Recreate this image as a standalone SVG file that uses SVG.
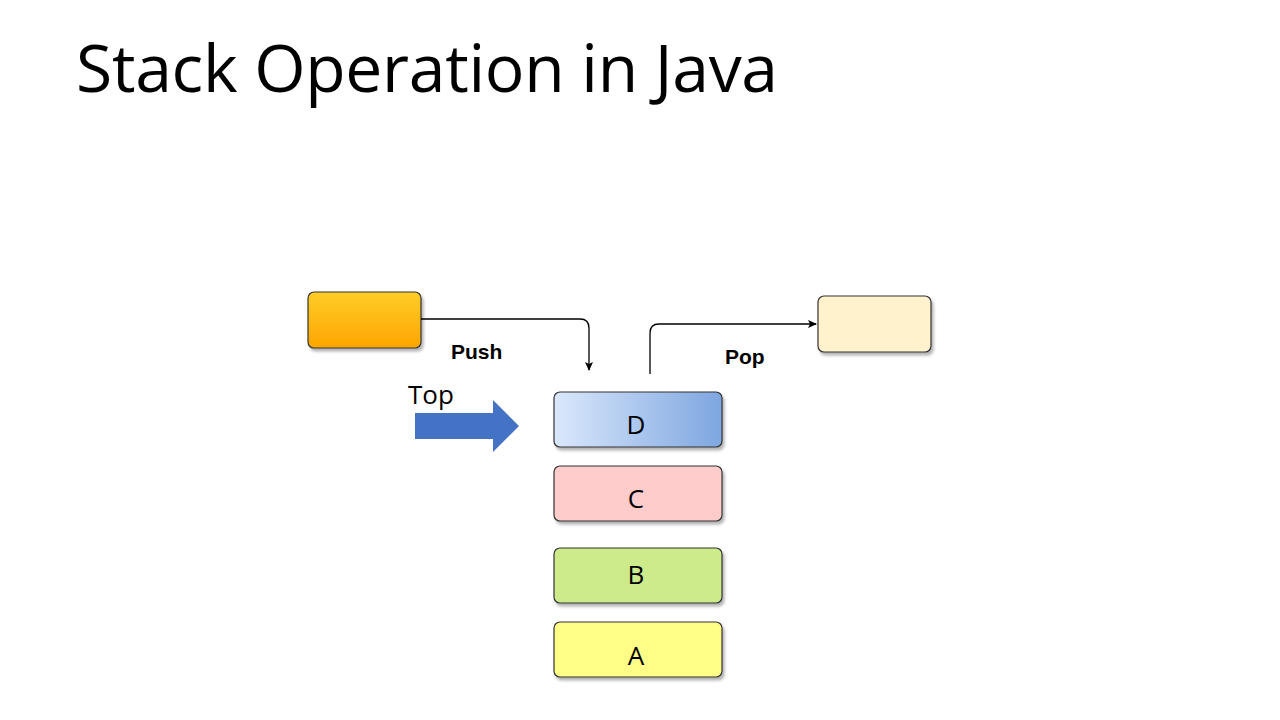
<svg xmlns="http://www.w3.org/2000/svg" width="1280" height="720" viewBox="0 0 1280 720">
<defs>
<linearGradient id="gOr" x1="0" y1="0" x2="0" y2="1"><stop offset="0" stop-color="#ffcd28"/><stop offset="1" stop-color="#ffa500"/></linearGradient>
<linearGradient id="gD" x1="0" y1="0" x2="1" y2="0"><stop offset="0" stop-color="#dae8fc"/><stop offset="1" stop-color="#7ea6e0"/></linearGradient>
<filter id="sh" x="-10%" y="-10%" width="130%" height="140%"><feDropShadow dx="2" dy="3" stdDeviation="1.5" flood-opacity="0.3"/></filter>
<marker id="ar" markerWidth="10" markerHeight="10" refX="8" refY="5" orient="auto" markerUnits="userSpaceOnUse"><path d="M0,1 L9,5 L0,9 L2,5 z" fill="#000"/></marker>
</defs>
<style>
.box{stroke:#333;stroke-width:1.2;filter:url(#sh)}
.lbl{font-family:"Open Sans","Noto Sans",sans-serif;font-size:26px;fill:#000;text-anchor:middle}
.b{font-family:"Liberation Sans",Arial,sans-serif;font-weight:bold;font-size:21px;fill:#000}
.con{fill:none;stroke:#000;stroke-width:1.3}
</style>
<rect width="1280" height="720" fill="#fff"/>
<text x="76" y="92" font-family="Open Sans, Noto Sans, sans-serif" font-size="66" fill="#000" textLength="702">Stack Operation in Java</text>
<g id="src"><rect class="box" x="308" y="292" width="113" height="56" rx="6" fill="url(#gOr)"/></g>
<g id="dst"><rect class="box" x="818" y="296" width="113" height="56" rx="6" fill="#fff2cc"/></g>
<g id="D"><rect class="box" x="554" y="392" width="168" height="55" rx="6" fill="url(#gD)"/><text class="lbl" x="636" y="434">D</text></g>
<g id="C"><rect class="box" x="554" y="466" width="168" height="55" rx="6" fill="#ffcccc"/><text class="lbl" x="636" y="508">C</text></g>
<g id="B"><rect class="box" x="554" y="548" width="168" height="55" rx="6" fill="#cdeb8b"/><text class="lbl" x="636" y="584">B</text></g>
<g id="A"><rect class="box" x="554" y="622" width="168" height="55" rx="6" fill="#ffff88"/><text class="lbl" x="636" y="665">A</text></g>
<g id="topArrow"><polygon points="415,413 493,413 493,400 519,426 493,452 493,439 415,439" fill="#4472c4"/><text x="408" y="404" font-family="Open Sans, Noto Sans, sans-serif" font-size="26" fill="#000">Top</text></g>
<g id="connectors">
<path class="con" d="M421,319 H580 Q589,319 589,328 V370" marker-end="url(#ar)"/>
<text class="b" x="451" y="359">Push</text>
<path class="con" d="M650,374 V333 Q650,324 659,324 H816" marker-end="url(#ar)"/>
<text class="b" x="725" y="364">Pop</text>
</g>
</svg>
